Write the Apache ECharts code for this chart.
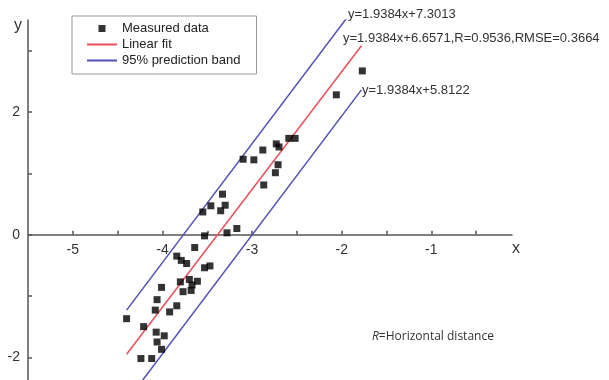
<!DOCTYPE html>
<html>
<head>
<meta charset="utf-8">
<script src="https://cdn.jsdelivr.net/npm/echarts@6/dist/echarts.min.js"></script>
<style>
  html, body { margin: 0; padding: 0; background: #fff; }
  #main { width: 609px; height: 380px; }
</style>
</head>
<body>
<div id="main"></div>
<script>
// measured points
var measX = [-1.77, -2.06, -2.59, -2.52, -2.73, -2.70, -2.88, -3.10, -2.98, -2.71,
             -2.74, -2.87, -3.33, -3.46, -3.30, -3.55, -3.35, -3.17, -3.28, -3.53,
             -3.64, -3.84, -3.79, -3.73, -3.53, -3.47, -3.80, -3.70, -3.67, -3.61,
             -3.77, -4.01, -4.06, -4.08, -3.92, -3.84, -4.40, -4.21, -4.07, -3.98,
             -4.06, -4.01, -4.24, -4.12, -3.68];
var measY = [2.67, 2.28, 1.57, 1.57, 1.48, 1.43, 1.38, 1.23, 1.22, 1.14,
             1.01, 0.81, 0.66, 0.47, 0.48, 0.37, 0.39, 0.10, 0.03, -0.02,
             -0.21, -0.35, -0.42, -0.47, -0.54, -0.51, -0.77, -0.73, -0.82, -0.76,
             -0.93, -0.86, -1.06, -1.23, -1.26, -1.16, -1.37, -1.50, -1.59, -1.65,
             -1.75, -1.87, -2.02, -2.02, -0.91];

// fit line and 95% band end points
var lineX  = [-4.40, -1.78];
var fitY   = [-1.95, 3.08];
var upperY = [-1.23, 3.85];
var lowerY = [-2.72, 2.36];

// ticks
var xLabelVals = [-5, -4, -3, -2, -1];
var xTickVals  = [-5, -4.5, -4, -3.5, -3, -2.5, -2, -1.5, -1, -0.5];
var yLabelVals = [-2, 0, 2];
var yTickVals  = [-2, -1, 0, 1, 2, 3];

var zip = function (xs, ys) {
  return xs.map(function (v, i) { return [v, ys[i]]; });
};

var myChart = echarts.init(document.getElementById('main'));
var font = '"Liberation Sans", Arial, sans-serif';
var axisCol = '#555';

// grid is 360px high for y in [-2.37, 3.5]; x axis sits on y = 0
var gridTop = 20, gridH = 360, yMin = -2.37, yMax = 3.5;
var zeroOffset = -gridH * (0 - yMin) / (yMax - yMin);

var option = {
  animation: false,
  grid: { left: 28, top: gridTop, width: 484, height: gridH, outerBoundsMode: 'none' },
  legend: {
    orient: 'vertical',
    left: 72,
    top: 16,
    padding: [6, 16, 7, 14],
    itemWidth: 30,
    itemHeight: 8,
    itemGap: 3,
    itemTextGap: 5,
    borderColor: '#999',
    borderWidth: 1,
    textStyle: { fontFamily: font, fontSize: 13, color: '#222' },
    data: [
      { name: 'Measured data', icon: 'path://M0,0M30,8M11.5,0.5h7v7h-7z' },
      { name: 'Linear fit', itemStyle: { opacity: 0 } },
      { name: '95% prediction band', itemStyle: { opacity: 0 } }
    ]
  },
  xAxis: {
    type: 'value',
    min: -5.5,
    max: -0.1,
    offset: zeroOffset,
    name: 'x',
    nameLocation: 'end',
    nameGap: 4,
    nameTextStyle: { fontFamily: font, fontSize: 16, color: '#333', align: 'center', verticalAlign: 'top', padding: [6, 0, 0, 0] },
    axisLine: { onZero: false, lineStyle: { color: axisCol, width: 1.5 } },
    axisTick: { inside: true, length: 4, customValues: xTickVals, lineStyle: { color: axisCol, width: 1.5 } },
    axisLabel: { customValues: xLabelVals, margin: 8, fontFamily: font, fontSize: 14, color: '#333' },
    splitLine: { show: false }
  },
  yAxis: {
    type: 'value',
    min: yMin,
    max: yMax,
    name: 'y',
    nameLocation: 'end',
    nameGap: 2,
    nameTextStyle: { fontFamily: font, fontSize: 16, color: '#333', align: 'right', verticalAlign: 'top', padding: [0, 6, 0, 0] },
    axisLine: { show: true, onZero: false, lineStyle: { color: axisCol, width: 1.5 } },
    axisTick: { show: true, inside: true, length: 4, customValues: yTickVals, lineStyle: { color: axisCol, width: 1.5 } },
    axisLabel: { customValues: yLabelVals, margin: 8, fontFamily: font, fontSize: 14, color: '#333' },
    splitLine: { show: false }
  },
  series: [
    {
      name: '95% prediction band',
      type: 'line',
      symbol: 'none',
      data: zip(lineX, upperY),
      lineStyle: { color: '#5050b4', width: 1.5 },
      itemStyle: { color: '#5050b4' }
    },
    {
      name: '95% prediction band',
      type: 'line',
      symbol: 'none',
      data: zip(lineX, lowerY),
      lineStyle: { color: '#5050b4', width: 1.5 },
      itemStyle: { color: '#5050b4' }
    },
    {
      name: 'Linear fit',
      type: 'line',
      symbol: 'none',
      data: zip(lineX, fitY),
      lineStyle: { color: '#e8505a', width: 1.5 },
      itemStyle: { color: '#e8505a' }
    },
    {
      name: 'Measured data',
      type: 'scatter',
      symbol: 'rect',
      symbolSize: 7,
      data: zip(measX, measY),
      itemStyle: { color: '#000' },
      z: 5
    }
  ],
  graphic: [
    { type: 'text', left: 348, top: 8, style: { text: 'y=1.9384x+7.3013', font: '13px ' + font, fill: '#333' } },
    { type: 'text', left: 343, top: 32, style: { text: 'y=1.9384x+6.6571,R=0.9536,RMSE=0.3664', font: '13px ' + font, fill: '#333' } },
    { type: 'text', left: 362, top: 84, style: { text: 'y=1.9384x+5.8122', font: '13px ' + font, fill: '#333' } },
    {
      type: 'text', left: 372, top: 331,
      style: {
        text: '{i|R}=Horizontal distance',
        font: '12px "Open Sans", sans-serif',
        fill: '#333',
        rich: { i: { fontStyle: 'italic', fontFamily: '"Open Sans", sans-serif', fontSize: 12, fill: '#333' } }
      }
    }
  ]
};

option && myChart.setOption(option);
</script>
</body>
</html>
